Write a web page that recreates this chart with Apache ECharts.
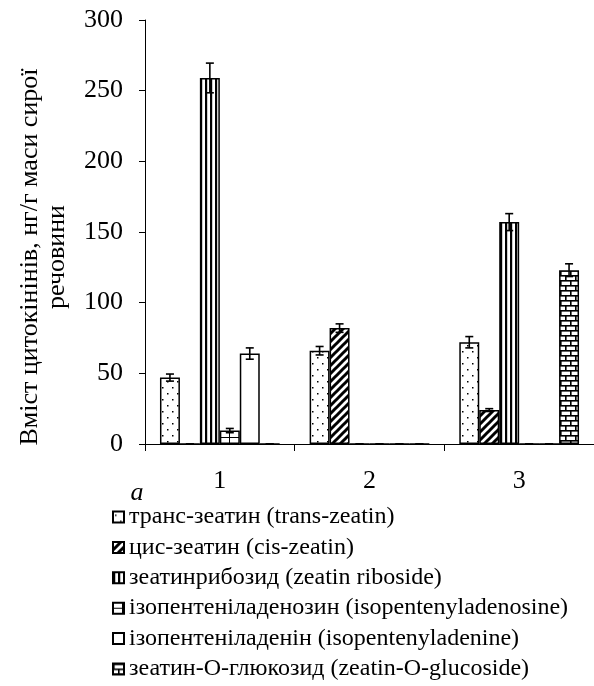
<!DOCTYPE html>
<html><head><meta charset="utf-8">
<script src="https://cdn.jsdelivr.net/npm/echarts@6/dist/echarts.min.js"></script>
<style>html,body{margin:0;padding:0;background:#fff}#c{width:594px;height:686px}</style>
</head><body><div id="c"></div>
<script>
const categories = ['1', '2', '3'];
const seriesNames = [
  'транс-зеатин (trans-zeatin)',
  'цис-зеатин (cis-zeatin)',
  'зеатинрибозид (zeatin riboside)',
  'ізопентеніладенозин (isopentenyladenosine)',
  'ізопентеніладенін (isopentenyladenine)',
  'зеатин-О-глюкозид (zeatin-O-glucoside)'
];
const transZeatin = [47, 66, 72];
const transZeatinErr = [2.5, 3, 4];
const cisZeatin = [0, 82, 24];
const cisZeatinErr = [0, 3, 1];
const zeatinRiboside = [259, 0, 157];
const zeatinRibosideErr = [10.5, 0, 6];
const ipAdenosine = [9.5, 0, 0];
const ipAdenosineErr = [1.5, 0, 0];
const ipAdenine = [64, 0, 0];
const ipAdenineErr = [4, 0, 0];
const glucoside = [0, 0, 123];
const glucosideErr = [0, 0, 4.5];
const yTicks = [0, 50, 100, 150, 200, 250, 300];

const values = [transZeatin, cisZeatin, zeatinRiboside, ipAdenosine, ipAdenine, glucoside];
const errors = [transZeatinErr, cisZeatinErr, zeatinRibosideErr, ipAdenosineErr, ipAdenineErr, glucosideErr];

const FONT = 'Liberation Serif';

function pat(w, h, draw) {
  const c = document.createElement('canvas');
  c.width = w; c.height = h;
  const g = c.getContext('2d');
  g.fillStyle = '#fff'; g.fillRect(0, 0, w, h);
  g.fillStyle = '#000'; g.strokeStyle = '#000';
  draw(g, w, h);
  return { image: c, repeat: 'repeat' };
}
const patterns = [
  pat(10, 12, g => { g.fillRect(2, 3, 1.5, 1.5); g.fillRect(7, 9, 1.5, 1.5); }),
  pat(8, 8, g => {
    g.lineWidth = 3;
    g.beginPath();
    g.moveTo(-1, 9); g.lineTo(9, -1);
    g.moveTo(-5, 5); g.lineTo(5, -5);
    g.moveTo(3, 13); g.lineTo(13, 3);
    g.stroke();
  }),
  pat(5, 4, g => { g.fillRect(0, 0, 2.2, 4); }),
  pat(10, 6, g => { g.fillRect(0, 5, 10, 1.2); g.fillRect(9, 0, 1.2, 6); }),
  pat(4, 4, g => {}),
  pat(10, 10, g => {
    g.fillRect(0, 0, 10, 1.6); g.fillRect(0, 5, 10, 1.6);
    g.fillRect(0, 0, 1.6, 5); g.fillRect(5, 5, 1.6, 5);
  })
];

const series = [];
seriesNames.forEach((name, k) => {
  series.push({
    name: name,
    type: 'bar',
    data: values[k],
    barGap: '0%',
    barCategoryGap: '20%',
    itemStyle: { color: patterns[k], borderColor: '#000', borderWidth: 1.5 },
    emphasis: { disabled: true },
    animation: false
  });
});
seriesNames.forEach((name, k) => {
  series.push({
    name: 'err' + k,
    type: 'custom',
    data: values[k].map((v, i) => [i, v, errors[k][i]]),
    z: 10,
    animation: false,
    renderItem: function (params, api) {
      const ci = api.value(0), v = api.value(1), e = api.value(2);
      const catW = api.size([1, 0])[0];
      const barW = catW * 0.8 / 6;
      const base = api.coord([ci, v]);
      const x = base[0] + (k - 2.5) * barW;
      const yt = api.coord([ci, v + e])[1];
      const yb = api.coord([ci, v - e])[1];
      const hw = 4;
      const st = { stroke: '#000', lineWidth: 1.6, fill: null };
      return {
        type: 'group',
        children: [
          { type: 'line', shape: { x1: x, y1: yt, x2: x, y2: yb }, style: st },
          { type: 'line', shape: { x1: x - hw, y1: yt, x2: x + hw, y2: yt }, style: st },
          { type: 'line', shape: { x1: x - hw, y1: yb, x2: x + hw, y2: yb }, style: st }
        ]
      };
    }
  });
});

const chart = echarts.init(document.getElementById('c'), null, { renderer: 'canvas' });
chart.setOption({
  backgroundColor: '#fff',
  animation: false,
  grid: { left: 145, top: 20, width: 450, height: 424, containLabel: false },
  xAxis: {
    type: 'category',
    data: categories,
    axisLine: { lineStyle: { color: '#000', width: 1 } },
    axisTick: { show: true, length: 7, alignWithLabel: false, lineStyle: { color: '#000' } },
    axisLabel: { color: '#000', fontFamily: FONT, fontSize: 26, margin: 24 },
    splitLine: { show: false }
  },
  yAxis: {
    type: 'value',
    min: yTicks[0], max: yTicks[yTicks.length - 1], interval: 50,
    axisLine: { show: true, lineStyle: { color: '#000', width: 1 } },
    axisTick: { show: true, length: 6, lineStyle: { color: '#000' } },
    axisLabel: { color: '#000', fontFamily: FONT, fontSize: 26, margin: 22 },
    splitLine: { show: false }
  },
  legend: {
    orient: 'vertical',
    left: 112, top: 505,
    padding: 0,
    itemWidth: 11, itemHeight: 11, itemGap: 6.4,
    icon: 'rect',
    selectedMode: false,
    data: seriesNames,
    textStyle: { color: '#000', fontFamily: FONT, fontSize: 24, lineHeight: 24 }
  },
  graphic: [
    {
      type: 'text', x: 44, y: 257, rotation: Math.PI / 2,
      style: {
        text: 'Вміст цитокінінів, нг/г маси сирої\nречовини',
        fontFamily: FONT, fontSize: 26, lineHeight: 27,
        fill: '#000', align: 'center', verticalAlign: 'middle'
      }
    },
    {
      type: 'text', x: 137, y: 493,
      style: {
        text: 'a', fontFamily: FONT, fontSize: 26, fontStyle: 'italic',
        fill: '#000', align: 'center', verticalAlign: 'middle'
      }
    }
  ],
  series: series
});
</script>
</body></html>
